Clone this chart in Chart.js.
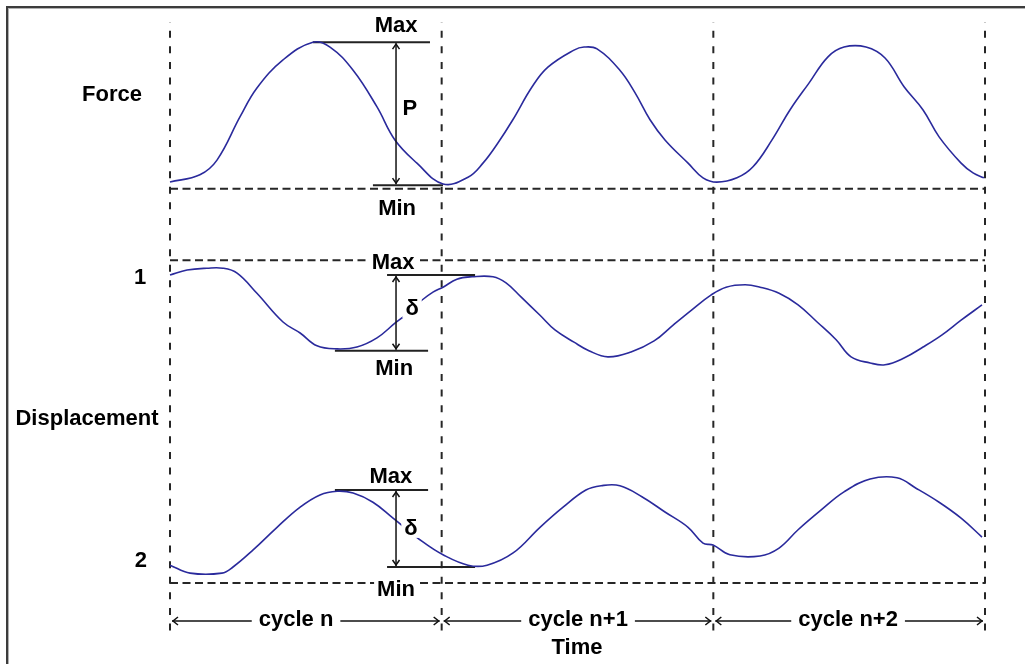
<!DOCTYPE html>
<html>
<head>
<meta charset="utf-8">
<script src="https://cdn.jsdelivr.net/npm/chart.js@4"></script>
<style>
  html, body { margin: 0; padding: 0; background: #fff; }
  #wrap { position: relative; width: 1025px; height: 664px; }
</style>
</head>
<body>
<div id="wrap"><canvas id="c" width="1025" height="664"></canvas></div>
<script>
// ---- Data (time in cycles, signal level in arbitrary units 0..100) ----
const cycleBounds = [0, 1, 2, 3];
const cycleLabels = ['cycle n', 'cycle n+1', 'cycle n+2'];

const forceX = [0,0.110,0.173,0.258,0.320,0.416,0.526,0.589,0.674,0.762,0.828,0.909,1.005,1.097,1.152,1.207,1.262,1.333,1.391,1.487,1.524,1.572,1.656,1.712,1.767,1.822,1.907,1.962,2.013,2.087,2.146,2.216,2.282,2.352,2.422,2.481,2.562,2.632,2.702,2.772,2.831,2.912,2.956,2.996];
const forceY = [73.8,75.0,77.4,84.5,89.2,93.8,96.7,95.9,92.1,86.1,80.7,76.9,73.5,74.6,76.9,80.2,84.0,89.4,92.6,95.4,95.9,95.6,92.1,88.4,84.0,80.7,76.9,74.5,73.8,74.5,76.3,80.7,85.6,90.0,94.3,95.9,95.9,94.1,89.4,85.6,81.2,76.9,75.3,74.5];

const disp1X = [0,0.063,0.136,0.195,0.247,0.320,0.416,0.479,0.541,0.615,0.688,0.762,0.828,0.865,0.928,0.968,1.005,1.056,1.112,1.189,1.237,1.292,1.362,1.417,1.487,1.542,1.612,1.697,1.782,1.852,1.921,1.991,2.047,2.117,2.172,2.242,2.312,2.382,2.452,2.507,2.577,2.632,2.702,2.772,2.842,2.912,2.989];
const disp1Y = [58.6,59.4,59.7,59.7,58.9,55.6,50.9,49.1,47.0,46.5,46.8,48.3,50.7,52.0,54.5,55.8,56.6,57.9,58.3,58.3,57.3,55.0,52.0,49.6,47.6,46.2,45.2,46.0,47.8,50.4,52.9,55.3,56.6,57.0,56.6,55.6,53.7,50.9,48.0,45.2,44.2,43.9,45.0,46.8,48.8,51.2,53.7];

const disp2X = [0,0.074,0.191,0.232,0.306,0.394,0.479,0.552,0.615,0.674,0.747,0.821,0.931,1.005,1.097,1.167,1.263,1.362,1.447,1.531,1.587,1.656,1.737,1.822,1.907,1.962,1.999,2.061,2.172,2.242,2.312,2.396,2.481,2.577,2.676,2.746,2.831,2.912,2.989];
const disp2Y = [11.1,9.8,9.8,10.8,13.6,17.3,20.6,22.6,23.2,22.9,21.4,18.8,14.9,12.8,11.1,11.1,13.1,17.3,20.6,23.4,24.1,24.1,22.3,19.8,17.3,14.7,14.4,12.8,12.6,13.9,16.9,20.1,23.1,25.2,25.4,23.7,21.4,18.8,15.7];

// Reference (dashed) levels, and Max / Min levels of the marked cycle
const panelNames = ['Force', '1', '2'];
const refLevels  = [72.7, 61.0, 8.2];
const maxLevels  = [96.7, 58.6, 23.4];
const minLevels  = [73.3, 46.2, 10.8];
const rangeSymbols = ['P', 'δ', 'δ'];

// ---- Styling / layout constants ----
const FONT = 'bold 22px "Liberation Sans", Arial, sans-serif';
const CURVE = '#2a2a9c';
const DASH_COL = '#262626';
// extents (in cycles) of the solid Max/Min marker lines for each panel
const markerSpan = [
  { max: [0.526, 0.957], min: [0.747, 1.005] },
  { max: [0.799, 1.123], min: [0.607, 0.950] },
  { max: [0.607, 0.950], min: [0.799, 1.123] }
];
const arrowX = 0.832;

function pts(xs, ys) { return xs.map((x, i) => ({ x: x, y: ys[i] })); }

const datasets = [];
[[forceX, forceY], [disp1X, disp1Y], [disp2X, disp2Y]].forEach(([xs, ys], i) => {
  datasets.push({
    label: panelNames[i], data: pts(xs, ys), borderColor: CURVE, borderWidth: 1.6,
    pointRadius: 0, tension: 0.4, clip: false
  });
});
// solid max/min markers
maxLevels.forEach((lvl, i) => {
  const s = markerSpan[i];
  datasets.push({ label: 'max' + i, data: [{ x: s.max[0], y: lvl }, { x: s.max[1], y: lvl }],
    borderColor: '#222', borderWidth: 2, pointRadius: 0, clip: false });
  datasets.push({ label: 'min' + i, data: [{ x: s.min[0], y: minLevels[i] }, { x: s.min[1], y: minLevels[i] }],
    borderColor: '#222', borderWidth: 2, pointRadius: 0, clip: false });
});
// dashed horizontal reference lines
refLevels.forEach((lvl, i) => {
  datasets.push({ label: 'ref' + i, data: [{ x: cycleBounds[0], y: lvl }, { x: cycleBounds[cycleBounds.length - 1], y: lvl }],
    borderColor: DASH_COL, borderWidth: 2, borderDash: [8, 4.5], pointRadius: 0, clip: false });
});
// dashed vertical cycle boundaries
cycleBounds.forEach((b) => {
  datasets.push({ label: 'cyc' + b, data: [{ x: b, y: 0.4 }, { x: b, y: 100 }],
    borderColor: DASH_COL, borderWidth: 2, borderDash: [7, 8.6], pointRadius: 0, clip: false });
});

const diagramPlugin = {
  id: 'diagram',
  beforeDraw(chart) {
    const ctx = chart.ctx;
    ctx.save();
    ctx.fillStyle = '#fff';
    ctx.fillRect(0, 0, chart.width, chart.height);
    // frame (top and left)
    ctx.fillStyle = '#3c3c3c';
    ctx.fillRect(6, 6, chart.width - 6, 2);
    ctx.fillRect(6, 6, 2, chart.height - 6);
    ctx.fillStyle = '#b0b0b0';
    ctx.fillRect(8, 8, chart.width - 8, 1);
    ctx.fillRect(8, 8, 1, chart.height - 8);
    ctx.restore();
  },
  afterDatasetsDraw(chart) {
    const ctx = chart.ctx;
    const X = v => chart.scales.x.getPixelForValue(v);
    const Y = v => chart.scales.y.getPixelForValue(v);
    ctx.save();
    ctx.font = FONT;
    ctx.textBaseline = 'middle';
    ctx.textAlign = 'center';

    function text(t, x, y, bg, padX) {
      const w = ctx.measureText(t).width;
      if (bg) {
        ctx.fillStyle = '#fff';
        ctx.fillRect(x - w / 2 - (padX || 2), y - 10, w + 2 * (padX || 2), 20);
      }
      ctx.fillStyle = '#000';
      ctx.fillText(t, x, y + 1);
    }
    function vArrow(x, y1, y2) {
      ctx.strokeStyle = '#111'; ctx.lineWidth = 1.5;
      ctx.beginPath(); ctx.moveTo(x, y1 + 1); ctx.lineTo(x, y2 - 1); ctx.stroke();
      ctx.beginPath();
      ctx.moveTo(x - 3.5, y1 + 7); ctx.lineTo(x, y1 + 2); ctx.lineTo(x + 3.5, y1 + 7);
      ctx.moveTo(x - 3.5, y2 - 7); ctx.lineTo(x, y2 - 2); ctx.lineTo(x + 3.5, y2 - 7);
      ctx.stroke();
    }
    function hArrow(x1, x2, y) {
      ctx.strokeStyle = '#111'; ctx.lineWidth = 1.5;
      ctx.beginPath(); ctx.moveTo(x1, y); ctx.lineTo(x2, y); ctx.stroke();
      ctx.beginPath();
      ctx.moveTo(x1 + 6, y - 4); ctx.lineTo(x1 + 1, y); ctx.lineTo(x1 + 6, y + 4);
      ctx.moveTo(x2 - 6, y - 4); ctx.lineTo(x2 - 1, y); ctx.lineTo(x2 - 6, y + 4);
      ctx.stroke();
    }

    // range arrows between Max and Min
    maxLevels.forEach((lvl, i) => vArrow(X(arrowX), Y(lvl), Y(minLevels[i])));

    // Max / Min labels and range symbols (positions in data units)
    const lbl = [
      { t: 'Max', x: 0.832, y: 99.5, bg: false },
      { t: 'Min', x: 0.836, y: 69.6, bg: false },
      { t: rangeSymbols[0], x: 0.883, y: 85.9, bg: false },
      { t: 'Max', x: 0.821, y: 60.7, bg: true },
      { t: 'Min', x: 0.825, y: 43.4, bg: false },
      { t: rangeSymbols[1], x: 0.891, y: 53.2, bg: true },
      { t: 'Max', x: 0.813, y: 25.7, bg: false },
      { t: 'Min', x: 0.832, y: 7.2, bg: true },
      { t: rangeSymbols[2], x: 0.887, y: 17.2, bg: true }
    ];
    lbl.forEach(l => text(l.t, X(l.x), Y(l.y), l.bg, 3));

    // left-side labels
    text(panelNames[0], X(-0.2135), Y(88.2));
    text(panelNames[1], X(-0.110), Y(58.3));
    text('Displacement', X(-0.3055), Y(35.2));
    text(panelNames[2], X(-0.107), Y(11.9));

    // cycle arrows
    const cy = Y(1.96);
    const cycleCenters = [0.464, 1.502, 2.496];
    for (let k = 0; k < cycleLabels.length; k++) {
      hArrow(X(cycleBounds[k]) + 2, X(cycleBounds[k + 1]) - 2, cy);
      text(cycleLabels[k], X(cycleCenters[k]), cy - 2, true, 7);
    }
    // axis title
    text('Time', X(1.498), Y(-2.3));
    ctx.restore();
  }
};

new Chart(document.getElementById('c'), {
  type: 'line',
  data: { datasets: datasets },
  options: {
    responsive: false,
    devicePixelRatio: 1,
    animation: false,
    layout: { padding: { left: 170, right: 40, top: 22, bottom: 31 } },
    plugins: { legend: { display: false }, tooltip: { enabled: false } },
    scales: {
      x: { type: 'linear', min: 0, max: 3, display: false },
      y: { type: 'linear', min: 0, max: 100, display: false }
    }
  },
  plugins: [diagramPlugin]
});
</script>
</body>
</html>
